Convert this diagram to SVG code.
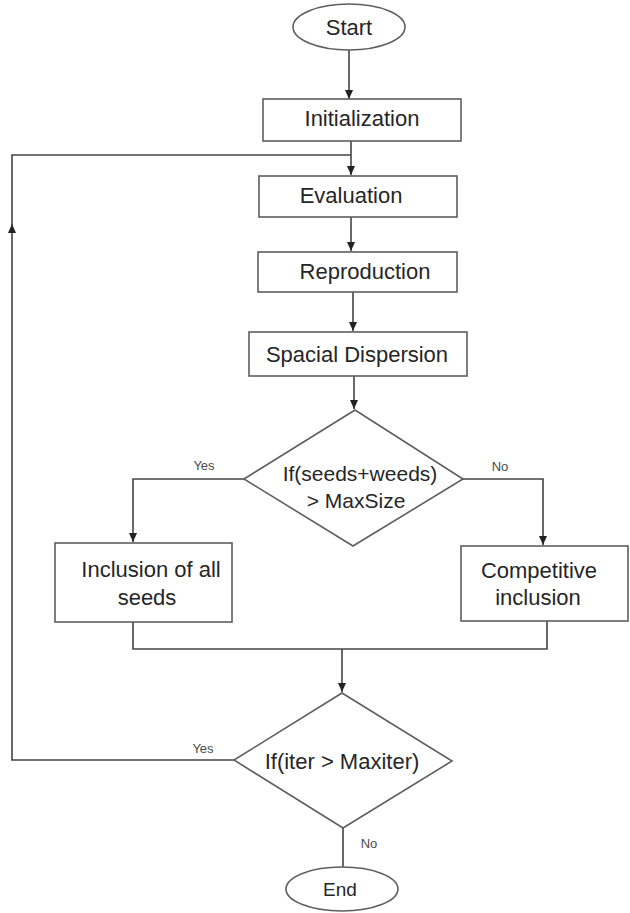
<svg xmlns="http://www.w3.org/2000/svg" width="630" height="913" viewBox="0 0 630 913">
<style>
.shape{fill:#ffffff;stroke:#5e5e5e;stroke-width:1.6}
.con{fill:none;stroke:#444444;stroke-width:1.6}
.t{font-family:"Liberation Sans",Arial,sans-serif;font-size:22px;fill:#262626;text-anchor:middle}
.lbl{font-family:"Liberation Sans",Arial,sans-serif;font-size:13px;fill:#4a4a4a;text-anchor:middle}
</style>
<defs>
<marker id="arr" markerUnits="userSpaceOnUse" markerWidth="10" markerHeight="10" viewBox="0 0 10 10" refX="9" refY="5" orient="auto">
<path d="M0,1 L9,5 L0,9 Z" fill="#222222"/>
</marker>
</defs>
<rect width="630" height="913" fill="#ffffff"/>
<g id="connectors">
<path class="con" d="M349,50 V99" marker-end="url(#arr)"/>
<path class="con" d="M351,141 V175" marker-end="url(#arr)"/>
<path class="con" d="M234,760 H12 V224" marker-end="url(#arr)"/>
<path class="con" d="M12,226 V155 H351"/>
<path class="con" d="M351,217 V251" marker-end="url(#arr)"/>
<path class="con" d="M353,292 V331" marker-end="url(#arr)"/>
<path class="con" d="M354,376 V409" marker-end="url(#arr)"/>
<path class="con" d="M244,479 H133 V542" marker-end="url(#arr)"/>
<path class="con" d="M463,479 H543 V545" marker-end="url(#arr)"/>
<path class="con" d="M133,622 V649 H547 V621"/>
<path class="con" d="M342,649 V692" marker-end="url(#arr)"/>
<path class="con" d="M343,828 V867"/>
<text class="lbl" x="204" y="470">Yes</text>
<text class="lbl" x="500" y="471">No</text>
<text class="lbl" x="203" y="753">Yes</text>
<text class="lbl" x="369" y="848">No</text>
</g>
<g id="start">
<ellipse class="shape" cx="349" cy="27" rx="56" ry="23"/>
<text class="t" x="349" y="35">Start</text>
</g>
<g id="initialization">
<rect class="shape" x="263" y="99" width="198" height="42"/>
<text class="t" x="362" y="126">Initialization</text>
</g>
<g id="evaluation">
<rect class="shape" x="259" y="176" width="198" height="41"/>
<text class="t" x="351" y="203">Evaluation</text>
</g>
<g id="reproduction">
<rect class="shape" x="258" y="252" width="199" height="40"/>
<text class="t" x="365" y="279">Reproduction</text>
</g>
<g id="spacial-dispersion">
<rect class="shape" x="249" y="332" width="218" height="44"/>
<text class="t" x="357" y="362">Spacial Dispersion</text>
</g>
<g id="decision-size">
<polygon class="shape" points="355,410 463,479 353,546 244,479"/>
<text class="t" x="360" y="481" style="font-size:21px">If(seeds+weeds)</text>
<text class="t" x="356" y="508" style="font-size:21px">&gt; MaxSize</text>
</g>
<g id="inclusion-all">
<rect class="shape" x="55" y="543" width="177" height="79"/>
<text class="t" x="151" y="577">Inclusion of all</text>
<text class="t" x="147" y="605">seeds</text>
</g>
<g id="competitive">
<rect class="shape" x="461" y="546" width="167" height="75"/>
<text class="t" x="539" y="578">Competitive</text>
<text class="t" x="538" y="605">inclusion</text>
</g>
<g id="decision-iter">
<polygon class="shape" points="342,693 452,761 343,828 234,760"/>
<text class="t" x="342" y="769">If(iter &gt; Maxiter)</text>
</g>
<g id="end">
<ellipse class="shape" cx="342" cy="889" rx="56" ry="22"/>
<text class="t" x="340" y="896" style="font-size:19px">End</text>
</g>
</svg>
